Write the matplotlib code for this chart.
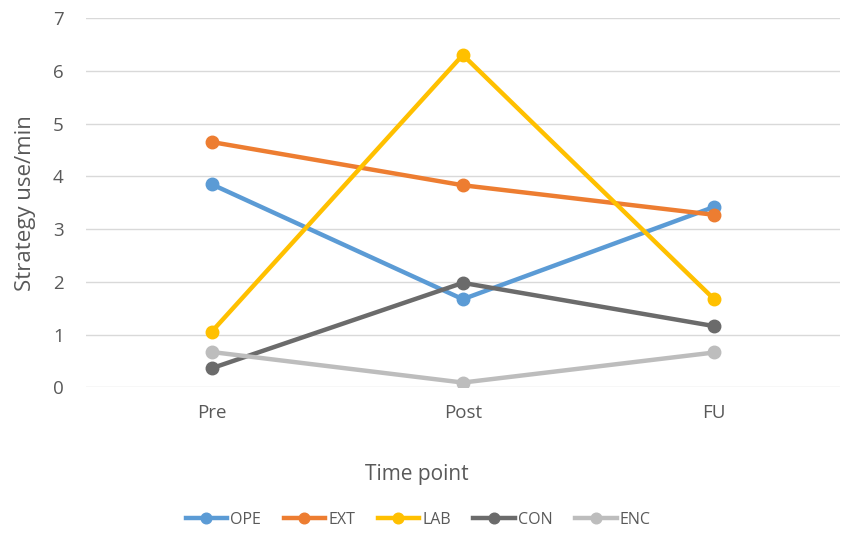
import numpy as np
import matplotlib.pyplot as plt

plt.rcParams['font.family'] = ['Open Sans', 'DejaVu Sans']

tiempos = ["Pre", "Post", "FU"]
ope = [3.85, 1.67, 3.42]
ext = [4.65, 3.83, 3.27]
lab = [1.05, 6.30, 1.67]
con = [0.36, 1.98, 1.16]
enc = [0.67, 0.09, 0.66]

series = [("OPE", ope, "#5B9BD5"),
          ("EXT", ext, "#ED7D31"),
          ("LAB", lab, "#FFC000"),
          ("CON", con, "#6B6B6B"),
          ("ENC", enc, "#BDBDBD")]

fig = plt.figure(figsize=(8.5, 5.36), dpi=100)
ax = fig.add_axes([0.101, 0.2774, 0.887, 0.689])

x = np.arange(len(tiempos))
for nombre, valores, color in series:
    ax.plot(x, valores, color=color, lw=3.2, marker="o", ms=9, label=nombre)

ax.set_xlim(-0.5, 2.5)
ax.set_ylim(0, 7)
ax.set_xticks(x)
ax.set_xticklabels(tiempos)
ax.set_yticks(range(0, 8))
ax.yaxis.grid(True, color="#D9D9D9", lw=1)
ax.set_axisbelow(True)
for s in ax.spines.values():
    s.set_visible(False)
ax.tick_params(length=0, labelsize=13.5, colors="#595959", pad=12)
ax.tick_params(axis="y", pad=16)

ax.set_ylabel("Strategy use/min", fontsize=16, color="#595959", labelpad=12)
fig.text(0.49, 0.114, "Time point", ha="center", va="center", fontsize=15, color="#595959")
fig.legend(loc="center", bbox_to_anchor=(0.492, 0.03), ncol=5, frameon=False,
           fontsize=11.5, handlelength=2.6, columnspacing=1.4, handletextpad=0.2,
           markerscale=0.85, labelcolor="#595959")

plt.savefig("out.png", dpi=100)
